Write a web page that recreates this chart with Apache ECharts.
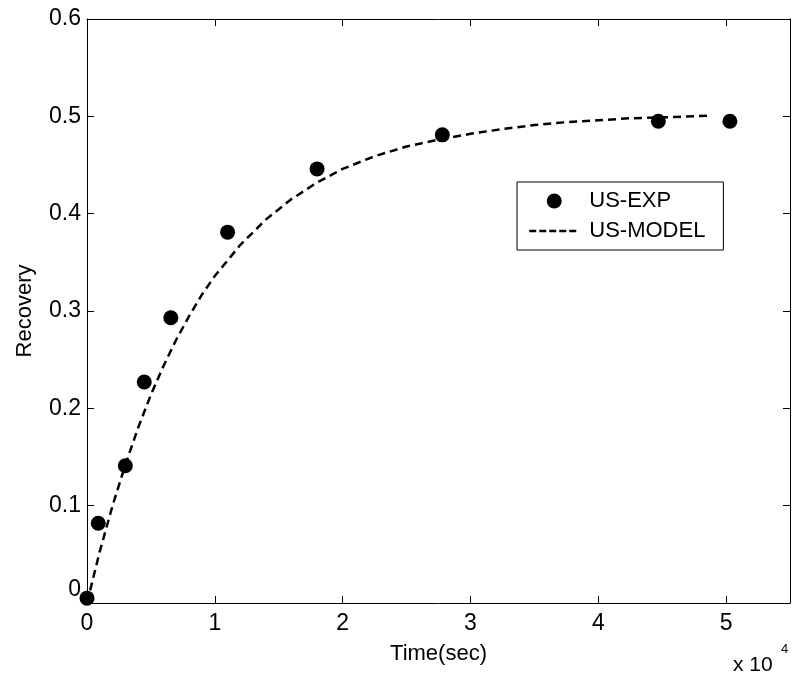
<!DOCTYPE html>
<html>
<head>
<meta charset="utf-8">
<title>Recovery vs time</title>
<script src="https://cdn.jsdelivr.net/npm/echarts@6/dist/echarts.min.js"></script>
<style>
  html, body { margin: 0; padding: 0; background: #fff; }
  #chart { width: 793px; height: 676px; }
</style>
</head>
<body>
<div id="chart"></div>
<script>
// experimental points (time in seconds, recovery fraction)
const expTime = [0, 880, 3000, 4480, 6560, 11000, 18000, 27800, 44700, 50300];
const expRecovery = [0.005, 0.082, 0.141, 0.227, 0.293, 0.381, 0.446, 0.481, 0.495, 0.495];

// model curve
const modelTime = [0, 1000, 2000, 3000, 4000, 5000, 6000, 7000, 8000, 9000, 10000,
  12000, 14000, 16000, 18000, 20000, 22500, 25000, 27500, 30000, 32500, 35000,
  37500, 40000, 42500, 45000, 47500, 48900];
const modelRecovery = [0, 0.053, 0.100, 0.142, 0.180, 0.214, 0.244, 0.271, 0.295, 0.317, 0.336,
  0.368, 0.394, 0.415, 0.432, 0.446, 0.459, 0.469, 0.476, 0.482, 0.487, 0.491,
  0.494, 0.496, 0.498, 0.499, 0.500, 0.501];

const xTicks = [0, 1, 2, 3, 4, 5];
const yTicks = [0, 0.1, 0.2, 0.3, 0.4, 0.5, 0.6];

(function () {
  const FONT = 'Liberation Sans, Arial, sans-serif';
  const chart = echarts.init(document.getElementById('chart'));

  const expData = expTime.map((t, i) => [t, expRecovery[i]]);
  const modelData = modelTime.map((t, i) => [t, modelRecovery[i]]);

  function xLabel(v) {
    const k = Math.round(v / 10000);
    return (Math.abs(v - k * 10000) < 1 && xTicks.indexOf(k) >= 0) ? String(k) : '';
  }
  function yLabel(v) {
    const r = Math.round(v * 10) / 10;
    if (yTicks.indexOf(r) < 0) return '';
    return r === 0 ? '{z|0}' : r.toFixed(1);
  }

  const axisLine = { show: true, onZero: false, lineStyle: { color: '#000', width: 1 } };
  const axisTick = { show: true, inside: true, length: 7, lineStyle: { color: '#000', width: 1 } };

  const opt = {
    backgroundColor: '#fff',
    animation: false,
    textStyle: { fontFamily: FONT },
    grid: { left: 87, right: 2, top: 19, bottom: 73, containLabel: false },
    xAxis: [
      {
        type: 'value', min: 0, max: 55000, interval: 10000,
        name: 'Time(sec)', nameLocation: 'middle', nameGap: 40,
        nameTextStyle: { color: '#000', fontSize: 22, fontFamily: FONT },
        axisLine: axisLine, axisTick: axisTick, splitLine: { show: false },
        axisLabel: { color: '#000', fontSize: 23, fontFamily: FONT, margin: 9, formatter: xLabel }
      },
      {
        type: 'value', position: 'top', min: 0, max: 55000, interval: 10000,
        axisLine: axisLine, axisTick: axisTick, splitLine: { show: false },
        axisLabel: { show: false }
      }
    ],
    yAxis: [
      {
        type: 'value', min: 0, max: 0.6, interval: 0.1,
        name: 'Recovery', nameLocation: 'middle', nameRotate: 90, nameGap: 51,
        nameTextStyle: { color: '#000', fontSize: 22, fontFamily: FONT },
        axisLine: axisLine, axisTick: axisTick, splitLine: { show: false },
        axisLabel: {
          color: '#000', fontSize: 23, fontFamily: FONT, margin: 6, formatter: yLabel,
          rich: { z: { color: '#000', fontSize: 23, fontFamily: FONT, padding: [0, 0, 26, 0] } }
        }
      },
      {
        type: 'value', position: 'right', min: 0, max: 0.6, interval: 0.1,
        axisLine: axisLine, axisTick: axisTick, splitLine: { show: false },
        axisLabel: { show: false }
      }
    ],
    legend: {
      orient: 'vertical', left: 517, top: 182,
      backgroundColor: '#fff', borderColor: '#000', borderWidth: 1,
      padding: [8, 18, 8, 11], itemGap: 8, itemWidth: 50, itemHeight: 15,
      textStyle: { color: '#000', fontSize: 22, fontFamily: FONT, padding: [0, 0, 0, 5] },
      data: [
        { name: 'US-EXP', icon: 'circle', itemStyle: { color: '#000', opacity: 1 } },
        { name: 'US-MODEL', itemStyle: { opacity: 0 },
          lineStyle: { color: '#000', width: 2.5, type: [7, 3] } }
      ]
    },
    graphic: [
      { type: 'text', left: 733, top: 655,
        style: { text: 'x 10', fill: '#000', font: '21px ' + FONT } },
      { type: 'text', left: 781, top: 643,
        style: { text: '4', fill: '#000', font: '13px ' + FONT } }
    ],
    series: [
      {
        name: 'US-EXP', type: 'scatter', data: expData,
        symbol: 'circle', symbolSize: 15,
        itemStyle: { color: '#000', opacity: 1 }, z: 3
      },
      {
        name: 'US-MODEL', type: 'line', data: modelData,
        showSymbol: false, symbol: 'none', smooth: false,
        lineStyle: { color: '#000', width: 2.5, type: [8, 5] },
        itemStyle: { color: '#000' }, z: 2
      }
    ]
  };

  chart.setOption(opt);
})();
</script>
</body>
</html>
